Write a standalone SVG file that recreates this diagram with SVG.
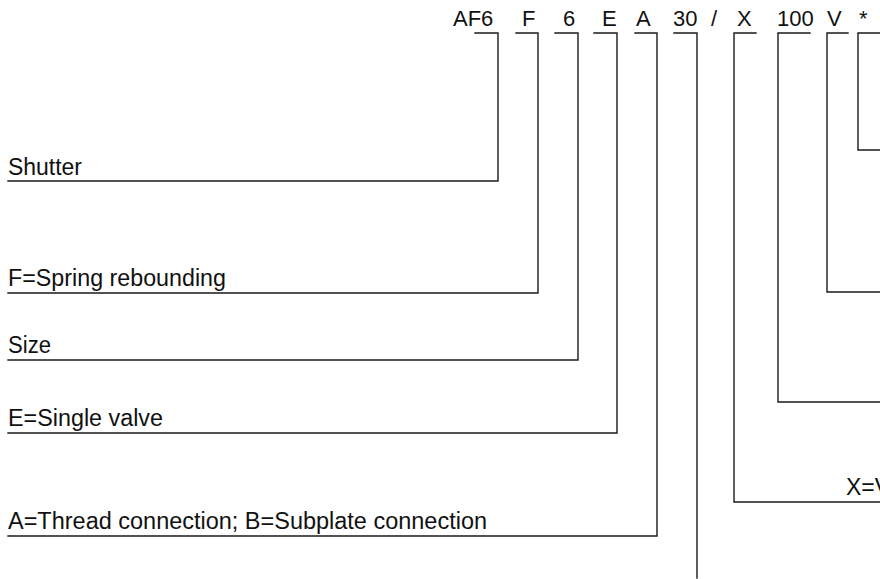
<svg xmlns="http://www.w3.org/2000/svg" width="880" height="579" viewBox="0 0 880 579">
<style>
text{font-family:"Liberation Sans",Arial,sans-serif;font-size:22px;fill:#111}
.d{font-size:23px}
.c{fill:none;stroke:#1a1a1a;stroke-width:1.4;stroke-linecap:square}
</style>
<rect width="880" height="579" fill="#fff"/>
<g id="code">
<text x="453" y="26">AF6</text>
<text x="522" y="26">F</text>
<text x="563" y="26">6</text>
<text x="602" y="26">E</text>
<text x="636" y="26">A</text>
<text x="673" y="26">30</text>
<text x="711" y="26">/</text>
<text x="737" y="26">X</text>
<text x="777" y="26">100</text>
<text x="827" y="26">V</text>
<text x="859" y="26">*</text>
</g>
<g id="shutter"><text class="d" x="8" y="175" textLength="74" lengthAdjust="spacingAndGlyphs">Shutter</text></g>
<g id="spring"><text class="d" x="8" y="286" textLength="218" lengthAdjust="spacingAndGlyphs">F=Spring rebounding</text></g>
<g id="size"><text class="d" x="8" y="353" textLength="43" lengthAdjust="spacingAndGlyphs">Size</text></g>
<g id="single"><text class="d" x="8" y="426" textLength="155" lengthAdjust="spacingAndGlyphs">E=Single valve</text></g>
<g id="connection"><text class="d" x="8" y="529" textLength="479" lengthAdjust="spacingAndGlyphs">A=Thread connection; B=Subplate connection</text></g>
<g id="xlabel"><text class="d" x="846" y="495">X=V</text></g>
<g id="connectors">
<path class="c" d="M475 33H498V181H8"/>
<path class="c" d="M516 33H538V293H8"/>
<path class="c" d="M555 33H578V360H8"/>
<path class="c" d="M594 33H617V433H8"/>
<path class="c" d="M635 33H657V536H8"/>
<path class="c" d="M674 33H697V578"/>
<path class="c" d="M756 33H734V502H880"/>
<path class="c" d="M810 33H778V402H880"/>
<path class="c" d="M848 33H827V292H880"/>
<path class="c" d="M880 33H858V150H880"/>
</g>
</svg>
